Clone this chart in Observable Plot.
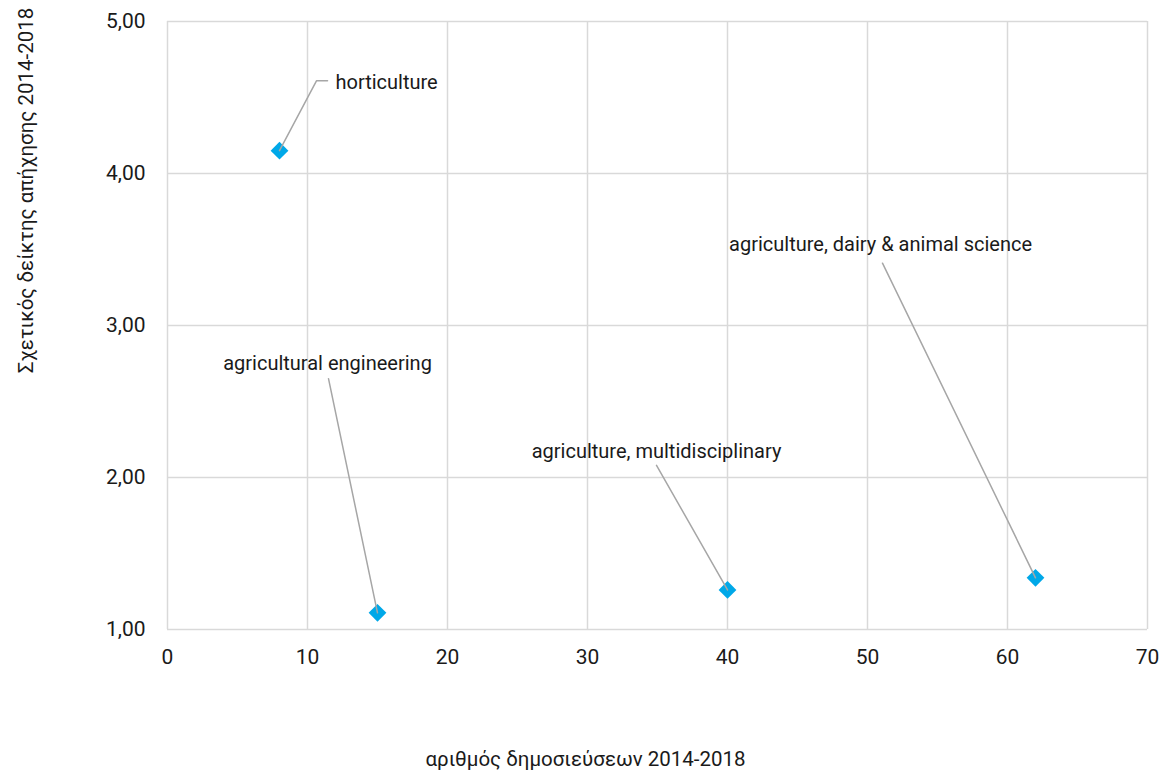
<!DOCTYPE html>
<html>
<head>
<meta charset="utf-8">
<script src="https://cdn.jsdelivr.net/npm/d3@7"></script>
<script src="https://cdn.jsdelivr.net/npm/@observablehq/plot@0.6"></script>
<style>
  html, body { margin: 0; padding: 0; background: #fff; }
  #chart svg { display: block; }
</style>
</head>
<body>
<div id="chart"></div>
<script>
// Data
const categories = ["horticulture", "agricultural engineering", "agriculture, multidisciplinary", "agriculture, dairy & animal science"];
const publications = [8, 15, 40, 62];
const impactIndex = [4.15, 1.11, 1.26, 1.34];
// label anchor positions (data units) and leader line bends
const labelX = [12.0, 11.43, 34.93, 50.93];
const labelY = [4.60, 2.75, 2.17, 3.53];
const leaderStartX = [11.43, 11.5, 34.93, 51.07];
const leaderStartY = [4.61, 2.65, 2.08, 3.41];
const leaderBendX = [10.64, null, null, null];
const labelAnchor = ["start", "middle", "middle", "middle"];
const xTicks = [0, 10, 20, 30, 40, 50, 60, 70];
const yTicks = [1, 2, 3, 4, 5];
const xTitle = "αριθμός δημοσιεύσεων 2014-2018";
const yTitle = "Σχετικός δείκτης απήχησης 2014-2018";

const points = categories.map((c, i) => ({name: c, x: publications[i], y: impactIndex[i]}));
const labels = categories.map((c, i) => ({name: c, x: labelX[i], y: labelY[i], anchor: labelAnchor[i]}));
const leaders = [];
categories.forEach((c, i) => {
  const pts = [[leaderStartX[i], leaderStartY[i]]];
  if (leaderBendX[i] != null) pts.push([leaderBendX[i], leaderStartY[i]]);
  pts.push([publications[i], impactIndex[i]]);
  pts.forEach(p => leaders.push({name: c, x: p[0], y: p[1]}));
});

const fmt = d => d.toFixed(2).replace(".", ",");
const font = "Roboto, 'DejaVu Sans', sans-serif";
const ink = "#1a1a1a";

const chart = Plot.plot({
  width: 1168,
  height: 778,
  marginLeft: 167,
  marginRight: 21,
  marginTop: 21,
  marginBottom: 149,
  style: {fontFamily: font, fontSize: "20px", color: ink, background: "#fff"},
  x: {domain: [0, 70], ticks: xTicks, label: null},
  y: {domain: [1, 5], ticks: yTicks, label: null},
  marks: [
    Plot.gridX(xTicks, {stroke: "#d9d9d9", strokeOpacity: 1, strokeWidth: 1.5}),
    Plot.gridY(yTicks, {stroke: "#d9d9d9", strokeOpacity: 1, strokeWidth: 1.5}),
    Plot.axisX(xTicks, {tickSize: 0, tickPadding: 20, fontSize: 21, tickFormat: d => String(d)}),
    Plot.axisY(yTicks, {tickSize: 0, tickPadding: 22, fontSize: 21, tickFormat: fmt}),
    Plot.dot(points, {x: "x", y: "y", symbol: "diamond2", r: 8, fill: "#00a8e8", stroke: "none"}),
    Plot.line(leaders, {x: "x", y: "y", z: "name", stroke: "#a6a6a6", strokeWidth: 1.5}),
    Plot.text(labels.filter(d => d.anchor === "start"), {x: "x", y: "y", text: "name", textAnchor: "start", fontSize: 20, fill: ink}),
    Plot.text(labels.filter(d => d.anchor === "middle"), {x: "x", y: "y", text: "name", textAnchor: "middle", fontSize: 20, fill: ink}),
    Plot.text([xTitle], {frameAnchor: "bottom", dx: -72, dy: 136, textAnchor: "middle", fontSize: 20.5, fill: ink}),
    Plot.text([yTitle], {frameAnchor: "top-left", dx: -149, dy: 169, rotate: -90, textAnchor: "middle", fontSize: 20.5, fill: ink})
  ]
});
document.getElementById("chart").appendChild(chart);
</script>
</body>
</html>
